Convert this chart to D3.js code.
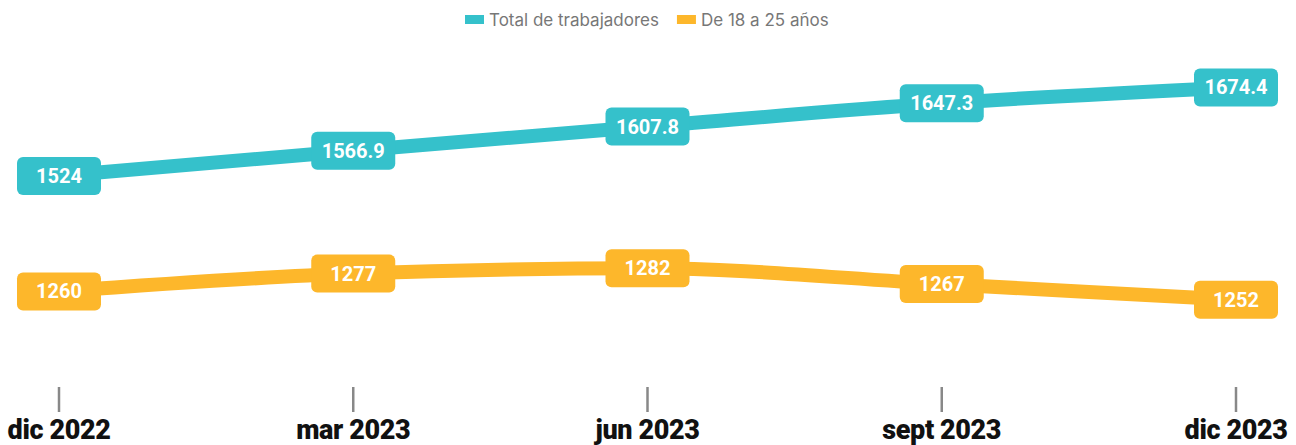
<!DOCTYPE html>
<html>
<head>
<meta charset="utf-8">
<script src="https://cdn.jsdelivr.net/npm/d3@7"></script>
<style>
  body { margin: 0; background: #fff; }
  svg { display: block; }
</style>
</head>
<body>
<div id="chart"></div>
<script>
// data
const periods = ['dic 2022', 'mar 2023', 'jun 2023', 'sept 2023', 'dic 2023'];
const total = [1524, 1566.9, 1607.8, 1647.3, 1674.4];
const young = [1260, 1277, 1282, 1267, 1252];
const seriesNames = ['Total de trabajadores', 'De 18 a 25 años'];
const seriesColors = ['#35c1cb', '#fdb72b'];

const width = 1296, height = 445;

const svg = d3.select('#chart').append('svg')
    .attr('width', width)
    .attr('height', height);

const x = d3.scalePoint()
    .domain(periods)
    .range([59, 1236]);

// each series has its own vertical band
const yTotal = d3.scaleLinear().domain([1524, 1674.4]).range([175.9, 87.4]);
const yYoung = d3.scaleLinear().domain([1252, 1282]).range([299.8, 268.3]);

const series = [
    {name: seriesNames[0], values: total, y: yTotal, color: seriesColors[0]},
    {name: seriesNames[1], values: young, y: yYoung, color: seriesColors[1]}
];

// legend
const legend = svg.append('g').attr('id', 'legendG');
let lx = 465;
series.forEach(s => {
    legend.append('rect')
        .attr('x', lx).attr('y', 15)
        .attr('width', 19).attr('height', 9)
        .attr('fill', s.color);
    const t = legend.append('text')
        .attr('x', lx + 24).attr('y', 26)
        .attr('font-family', 'Inter, "Noto Sans", sans-serif')
        .attr('font-size', 17)
        .attr('fill', '#777')
        .text(s.name);
    lx += 24 + t.node().getComputedTextLength() + 18;
});

// x axis: tick marks and labels
const axis = svg.append('g').attr('id', 'axisG');
axis.selectAll('line')
    .data(periods)
    .join('line')
    .attr('x1', d => x(d)).attr('x2', d => x(d))
    .attr('y1', 387).attr('y2', 412)
    .attr('stroke', '#888')
    .attr('stroke-width', 2.5);
axis.selectAll('text')
    .data(periods)
    .join('text')
    .attr('x', d => x(d))
    .attr('y', 439)
    .attr('text-anchor', 'middle')
    .attr('font-family', 'Roboto, Inter, sans-serif')
    .attr('font-weight', 900)
    .attr('font-size', 27)
    .attr('letter-spacing', -0.4)
    .attr('fill', '#111')
    .text(d => d);

// lines
series.forEach((s, i) => {
    const line = d3.line()
        .x((d, j) => x(periods[j]))
        .y(d => s.y(d))
        .curve(d3.curveMonotoneX);

    const g = svg.append('g').attr('id', 'series' + i);
    g.append('path')
        .datum(s.values)
        .attr('d', line)
        .attr('fill', 'none')
        .attr('stroke', s.color)
        .attr('stroke-width', 14);

    // value labels in rounded boxes
    const lab = g.selectAll('g.lab')
        .data(s.values)
        .join('g')
        .attr('class', 'lab')
        .attr('transform', (d, j) => 'translate(' + x(periods[j]) + ',' + s.y(d) + ')');
    lab.append('rect')
        .attr('x', -42).attr('y', -19)
        .attr('width', 84).attr('height', 38)
        .attr('rx', 6)
        .attr('fill', s.color);
    lab.append('text')
        .attr('text-anchor', 'middle')
        .attr('dy', 7)
        .attr('font-family', 'Roboto, Inter, sans-serif')
        .attr('font-weight', 700)
        .attr('font-size', 20)
        .attr('fill', '#fff')
        .text(d => d);
});
</script>
</body>
</html>
